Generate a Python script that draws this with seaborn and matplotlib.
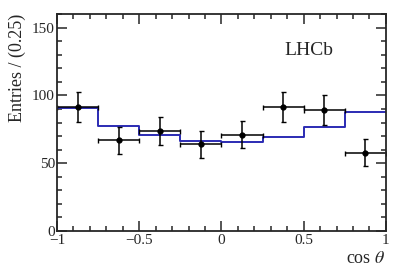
import numpy as np
import pandas as pd
import seaborn as sns
import matplotlib
matplotlib.use("Agg")
from matplotlib import pyplot as plt
from matplotlib.ticker import MultipleLocator

# bin edges and centres in cos(theta)
edges = [-1.0, -0.75, -0.5, -0.25, 0.0, 0.25, 0.5, 0.75, 1.0]
centres = [-0.875, -0.625, -0.375, -0.125, 0.125, 0.375, 0.625, 0.875]

# data points with errors
data_y = [91.2, 67.0, 73.8, 64.0, 71.0, 91.4, 89.3, 57.8]
data_err = [11, 10, 10, 10, 10, 11, 11, 10]

# fitted/expected histogram
model_y = [91.0, 77.5, 70.6, 66.4, 65.7, 69.4, 77.0, 87.7]

sns.set_style("ticks")
plt.rcParams['font.family'] = ['Liberation Serif', 'DejaVu Serif']
plt.rcParams['mathtext.fontset'] = 'stix'

fig = plt.figure(figsize=(4.07, 2.76), dpi=100)
ax = fig.add_axes([0.140, 0.163, 0.808, 0.786])

df = pd.DataFrame({'x': centres, 'w': model_y})
sns.histplot(data=df, x='x', weights='w', bins=edges, element='step',
             fill=False, color='#2b2bb3', linewidth=1.4, ax=ax)

ax.errorbar(centres, data_y, xerr=0.125, yerr=data_err, fmt='o',
            color='black', markersize=3.5, elinewidth=1.1, capsize=1.8,
            capthick=1.0)

ax.set_xlim(-1, 1)
ax.set_ylim(0, 160)
ax.xaxis.set_major_locator(MultipleLocator(0.5))
ax.xaxis.set_minor_locator(MultipleLocator(0.1))
ax.yaxis.set_major_locator(MultipleLocator(50))
ax.yaxis.set_minor_locator(MultipleLocator(10))
ax.set_xticks([-1, -0.5, 0, 0.5, 1])
ax.set_xticklabels(['\u22121', '\u22120.5', '0', '0.5', '1'])
ax.tick_params(which='both', direction='in', top=True, right=True,
               labelsize=11, width=1.1)
ax.tick_params(axis='x', pad=2)
ax.tick_params(axis='y', pad=1.5)
ax.tick_params(which='major', length=7)
ax.tick_params(which='minor', length=3.5)
for s in ax.spines.values():
    s.set_linewidth(1.3)

ax.set_xlabel(r'cos $\theta$', fontsize=13, loc='right', labelpad=2)
ax.set_ylabel('Entries / (0.25)', fontsize=13, loc='top', labelpad=4)
ax.text(0.84, 0.834, 'LHCb', transform=ax.transAxes, fontsize=14,
        ha='right', va='center')

fig.savefig('out.png', dpi=100)
